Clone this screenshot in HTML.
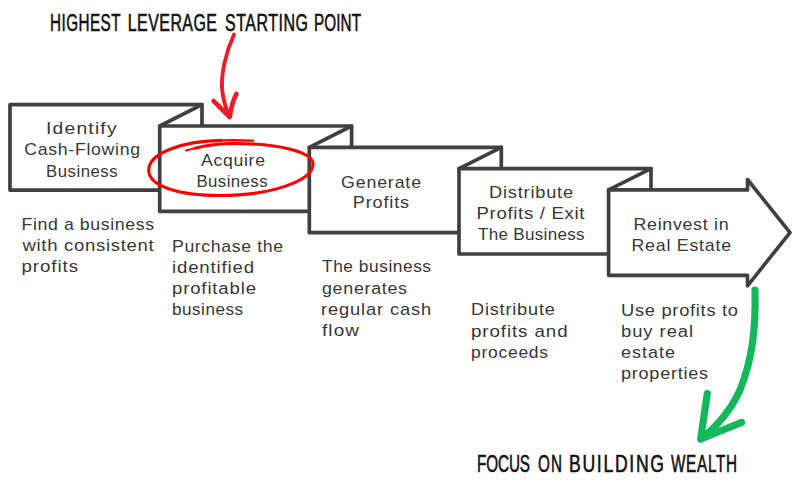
<!DOCTYPE html>
<html><head><meta charset="utf-8"><style>
html,body{margin:0;padding:0;background:#fff;width:800px;height:500px;overflow:hidden}
svg{display:block}
text.t{font-family:"Liberation Sans",sans-serif;font-size:16px;fill:#363636}
text.h{font-family:"Liberation Sans",sans-serif;font-size:23.5px;fill:#111;stroke:#111;stroke-width:0.6px}
</style></head><body>
<svg width="800" height="500" viewBox="0 0 800 500">
<path d="M10.0,104.7 H202.0 V190.1 H10.0 Z" fill="#fff" stroke="#404040" stroke-width="3.7" stroke-linejoin="round"/><path d="M159.7,126.0 H351.6 V211.4 H159.7 Z" fill="#fff" stroke="#404040" stroke-width="3.7" stroke-linejoin="round"/><path d="M159.7,126.0 L202.0,104.7" stroke="#404040" stroke-width="3.7" stroke-linecap="round"/><path d="M309.3,147.3 H501.3 V232.7 H309.3 Z" fill="#fff" stroke="#404040" stroke-width="3.7" stroke-linejoin="round"/><path d="M309.3,147.3 L351.6,126.0" stroke="#404040" stroke-width="3.7" stroke-linecap="round"/><path d="M459.0,168.6 H651.0 V254.0 H459.0 Z" fill="#fff" stroke="#404040" stroke-width="3.7" stroke-linejoin="round"/><path d="M459.0,168.6 L501.3,147.3" stroke="#404040" stroke-width="3.7" stroke-linecap="round"/><path d="M608.6,189.9 H747.5 V179.5 L790,232.6 L747.5,285.8 V275.3 H608.6 Z" fill="#fff" stroke="#404040" stroke-width="3.7" stroke-linejoin="round"/><path d="M608.6,189.9 L651.0,168.6" stroke="#404040" stroke-width="3.7" stroke-linecap="round"/>
<text class="t" transform="translate(46.00,134) scale(1.210472440944882,1)" textLength="58.31" lengthAdjust="spacing">Identify</text><text class="t" transform="translate(24.25,155.2) scale(1.1059105431309904,1)" textLength="104.70" lengthAdjust="spacing">Cash-Flowing</text><text class="t" transform="translate(46.00,176.5) scale(1.0458363417569194,1)" textLength="68.42" lengthAdjust="spacing">Business</text><text class="t" transform="translate(201.00,166) scale(1.1048387096774195,1)" textLength="57.94" lengthAdjust="spacing">Acquire</text><text class="t" transform="translate(196.50,186.9) scale(1.0508423586040914,1)" textLength="67.62" lengthAdjust="spacing">Business</text><text class="t" transform="translate(341.00,187.5) scale(1.1099063231850117,1)" textLength="72.13" lengthAdjust="spacing">Generate</text><text class="t" transform="translate(352.75,208) scale(1.127670572019297,1)" textLength="49.96" lengthAdjust="spacing">Profits</text><text class="t" transform="translate(489.00,197.5) scale(1.1387167630057804,1)" textLength="73.81" lengthAdjust="spacing">Distribute</text><text class="t" transform="translate(476.50,218.75) scale(1.1647904082006224,1)" textLength="92.75" lengthAdjust="spacing">Profits / Exit</text><text class="t" transform="translate(478.00,240) scale(1.064119922630561,1)" textLength="100.09" lengthAdjust="spacing">The Business</text><text class="t" transform="translate(633.50,230.3) scale(1.1120371101460715,1)" textLength="85.47" lengthAdjust="spacing">Reinvest in</text><text class="t" transform="translate(631.50,251.4) scale(1.1098639969777109,1)" textLength="89.73" lengthAdjust="spacing">Real Estate</text><text class="t" transform="translate(21.50,230) scale(1.1069436698271053,1)" textLength="119.72" lengthAdjust="spacing">Find a business</text><text class="t" transform="translate(22.50,251.3) scale(1.1605062537224538,1)" textLength="113.10" lengthAdjust="spacing">with consistent</text><text class="t" transform="translate(21.50,272.1) scale(1.1688741484403011,1)" textLength="48.39" lengthAdjust="spacing">profits</text><text class="t" transform="translate(172.00,251.6) scale(1.105611534637057,1)" textLength="100.42" lengthAdjust="spacing">Purchase the</text><text class="t" transform="translate(172.00,273) scale(1.1619053427665285,1)" textLength="70.62" lengthAdjust="spacing">identified</text><text class="t" transform="translate(172.00,294) scale(1.1596843104676005,1)" textLength="72.48" lengthAdjust="spacing">profitable</text><text class="t" transform="translate(172.00,315) scale(1.0704354280059376,1)" textLength="66.34" lengthAdjust="spacing">business</text><text class="t" transform="translate(322.00,272) scale(1.0848809719257921,1)" textLength="100.49" lengthAdjust="spacing">The business</text><text class="t" transform="translate(322.00,293.6) scale(1.1135038419319432,1)" textLength="76.36" lengthAdjust="spacing">generates</text><text class="t" transform="translate(321.00,315) scale(1.1413966282165044,1)" textLength="96.43" lengthAdjust="spacing">regular cash</text><text class="t" transform="translate(322.00,336) scale(1.1861120263591438,1)" textLength="31.21" lengthAdjust="spacing">flow</text><text class="t" transform="translate(471.00,315.3) scale(1.1343884393063586,1)" textLength="73.90" lengthAdjust="spacing">Distribute</text><text class="t" transform="translate(471.00,336.5) scale(1.1703429527394396,1)" textLength="82.50" lengthAdjust="spacing">profits and</text><text class="t" transform="translate(471.00,358) scale(1.0905649181106105,1)" textLength="70.64" lengthAdjust="spacing">proceeds</text><text class="t" transform="translate(621.00,315.6) scale(1.142971987402619,1)" textLength="102.40" lengthAdjust="spacing">Use profits to</text><text class="t" transform="translate(621.00,337) scale(1.149341202305792,1)" textLength="62.70" lengthAdjust="spacing">buy real</text><text class="t" transform="translate(621.00,358) scale(1.1253405017921148,1)" textLength="48.06" lengthAdjust="spacing">estate</text><text class="t" transform="translate(621.00,379) scale(1.1264602547211244,1)" textLength="77.28" lengthAdjust="spacing">properties</text><text class="h" transform="translate(50.00,30.8) scale(0.65,1)" textLength="108.50" lengthAdjust="spacing">HIGHEST</text><text class="h" transform="translate(127.75,30.8) scale(0.68,1)" textLength="131.28" lengthAdjust="spacing">LEVERAGE</text><text class="h" transform="translate(225.00,30.8) scale(0.68,1)" textLength="122.11" lengthAdjust="spacing">STARTING</text><text class="h" transform="translate(314.00,30.8) scale(0.65,1)" textLength="72.34" lengthAdjust="spacing">POINT</text><text class="h" transform="translate(477.00,472) scale(0.65,1)" textLength="81.56" lengthAdjust="spacing">FOCUS</text><text class="h" transform="translate(538.00,472) scale(0.65,1)" textLength="36.99" lengthAdjust="spacing">ON</text><text class="h" transform="translate(569.00,472) scale(0.75,1)" textLength="126.70" lengthAdjust="spacing">BUILDING</text><text class="h" transform="translate(671.00,472) scale(0.65,1)" textLength="101.56" lengthAdjust="spacing">WEALTH</text>

<path d="M234,34.5 C226,52 220,75 222.5,93 C224,103 227,111 229.8,117" fill="none" stroke="#ee1c25" stroke-width="3.9" stroke-linecap="round"/>
<path d="M213.6,101 L229.8,117 C231,108 233,100 236.5,94" fill="none" stroke="#ee1c25" stroke-width="4.6" stroke-linecap="round" stroke-linejoin="round"/>
<path d="M194,148.5 C207,145 220,143.5 235,143.5 C279,143.5 313,152 313,164 C313,181 271,195.5 220,195.5 C178,195.5 148.7,186 148.7,170 C148.7,153 183,140.8 222,140.4" fill="none" stroke="#f00" stroke-width="3.1"/>
<path d="M186,150.5 C190,149.5 192,149 194,148.5" fill="none" stroke="#f00" stroke-width="2" stroke-linecap="round"/>
<path d="M221,140.4 C235,140.2 245,140.3 253,140.6" fill="none" stroke="#f00" stroke-width="2.4" stroke-linecap="round"/>
<path d="M755,290 C756,330 752,360 740,390 C730,412 715,428 700.8,439" fill="none" stroke="#14b85a" stroke-width="7.2" stroke-linecap="round"/>
<path d="M707.3,393.6 C705,410 702,428 700.8,439 L741.6,422.4" fill="none" stroke="#14b85a" stroke-width="7.2" stroke-linecap="round" stroke-linejoin="round"/>

</svg></body></html>
